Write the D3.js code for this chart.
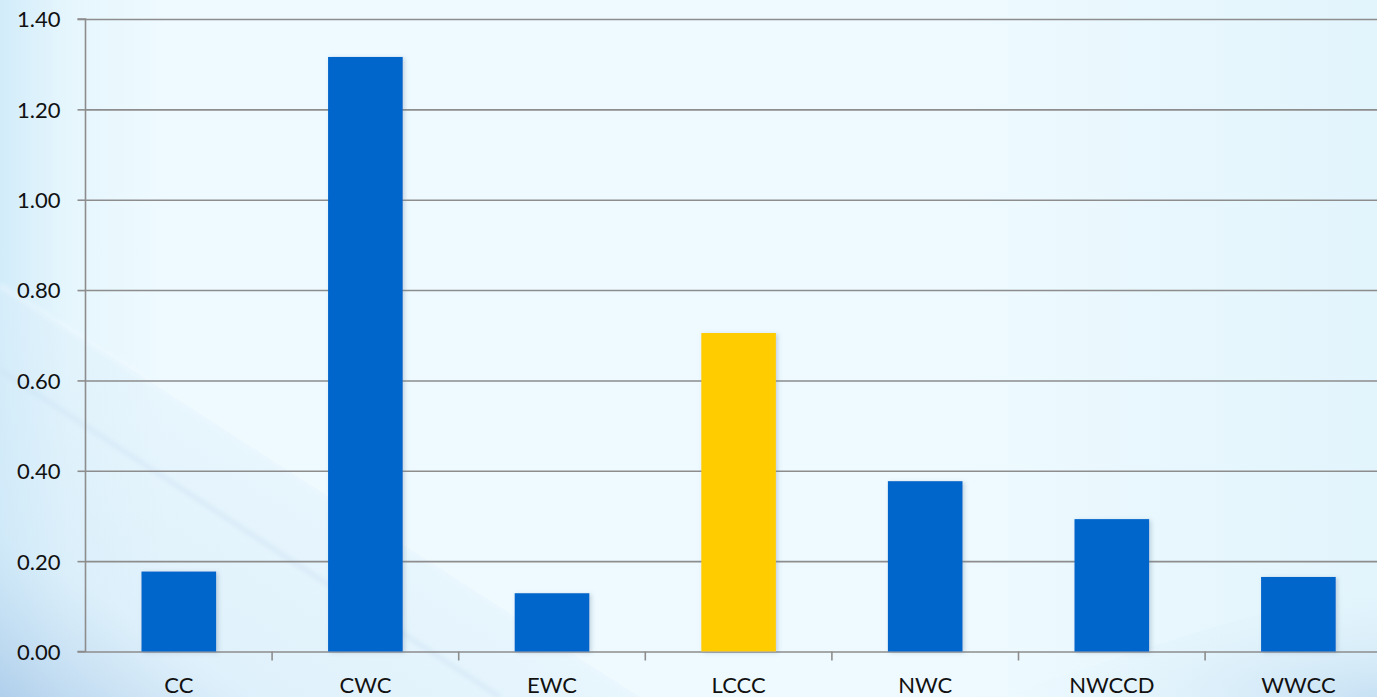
<!DOCTYPE html>
<html>
<head>
<meta charset="utf-8">
<script src="https://cdn.jsdelivr.net/npm/d3@7"></script>
<style>
  html, body { margin: 0; padding: 0; overflow: hidden; }
  svg { display: block; }
  svg text { font-family: Lato, "Open Sans", sans-serif; fill: #111; }
</style>
</head>
<body>
<div id="chart"></div>
<script>
// data
var categories = ["CC", "CWC", "EWC", "LCCC", "NWC", "NWCCD", "WWCC"];
var values = [0.177, 1.316, 0.129, 0.705, 0.377, 0.293, 0.165];
var highlight = "LCCC";
var yTicks = [0, 0.2, 0.4, 0.6, 0.8, 1.0, 1.2, 1.4];

var svgWidth = 1377;
var svgHeight = 697;

var margin = { top: 19, left: 85.5, bottom: 45.5 };
var step = 186.6;
var plotRight = margin.left + step * categories.length;

var svg = d3.select("#chart")
  .append("svg")
    .attr("width", svgWidth)
    .attr("height", svgHeight);

var defs = svg.append("defs");

// background gradients
var bg = defs.append("linearGradient").attr("id", "bg")
  .attr("x1", "0%").attr("x2", "100%").attr("y1", "0%").attr("y2", "0%");
bg.append("stop").attr("offset", "0%").attr("stop-color", "#d2ecfa");
bg.append("stop").attr("offset", "5%").attr("stop-color", "#e6f6fd");
bg.append("stop").attr("offset", "12%").attr("stop-color", "#eefaff");
bg.append("stop").attr("offset", "70%").attr("stop-color", "#eefaff");
bg.append("stop").attr("offset", "100%").attr("stop-color", "#e2f4fc");

var streak = defs.append("linearGradient").attr("id", "streak")
  .attr("x1", "0%").attr("x2", "100%").attr("y1", "100%").attr("y2", "0%");
streak.append("stop").attr("offset", "0%").attr("stop-color", "#a8c8e8").attr("stop-opacity", 0.8);
streak.append("stop").attr("offset", "20%").attr("stop-color", "#cfe7f7").attr("stop-opacity", 0.5);
streak.append("stop").attr("offset", "60%").attr("stop-color", "#e0f1fb").attr("stop-opacity", 0.3);
streak.append("stop").attr("offset", "100%").attr("stop-color", "#e8f6ff").attr("stop-opacity", 0.1);

var corner = defs.append("radialGradient").attr("id", "corner")
  .attr("cx", "100%").attr("cy", "100%").attr("r", "100%");
corner.append("stop").attr("offset", "0%").attr("stop-color", "#bcd9f0").attr("stop-opacity", 0.7);
corner.append("stop").attr("offset", "100%").attr("stop-color", "#e0f2fb").attr("stop-opacity", 0);

var blur = defs.append("filter").attr("id", "blur");
blur.append("feGaussianBlur").attr("stdDeviation", 2.5);

var shadow = defs.append("filter").attr("id", "shadow")
  .attr("x", "-10%").attr("y", "-10%").attr("width", "130%").attr("height", "120%");
shadow.append("feDropShadow")
  .attr("dx", 2).attr("dy", 1).attr("stdDeviation", 2)
  .attr("flood-color", "#5a7a99").attr("flood-opacity", 0.3);

svg.append("rect")
  .attr("width", svgWidth).attr("height", svgHeight)
  .attr("fill", "url(#bg)");

// diagonal light bands, bottom left
svg.append("path")
  .attr("d", "M0,285 L640,697 L0,697 Z")
  .attr("fill", "url(#streak)");
svg.append("path")
  .attr("d", "M0,285 L640,697")
  .attr("stroke", "#f2faff").attr("stroke-width", 3).attr("stroke-opacity", 0.7)
  .attr("fill", "none").attr("filter", "url(#blur)");
svg.append("path")
  .attr("d", "M0,370 L500,697")
  .attr("stroke", "#cbdff2").attr("stroke-width", 3).attr("stroke-opacity", 0.7)
  .attr("fill", "none").attr("filter", "url(#blur)");
svg.append("path")
  .attr("d", "M1000,697 Q1250,610 1377,585 L1377,697 Z")
  .attr("fill", "url(#corner)");

var xScale = d3.scaleBand()
  .domain(categories)
  .range([margin.left, plotRight]);

var yScale = d3.scaleLinear()
  .domain([0, 1.4])
  .range([svgHeight - margin.bottom, margin.top]);

// gridlines
svg.append("g")
  .attr("transform", `translate(${margin.left}, 0)`)
  .call(d3.axisLeft(yScale).tickValues(yTicks).tickSize(-(svgWidth - margin.left)).tickFormat(""))
  .call(g => g.select(".domain").remove())
  .call(g => g.selectAll("line").attr("stroke", "#8d8d8d").attr("stroke-width", 1.6));

// bars
svg.selectAll("rect.bar")
  .data(categories)
  .enter().append("rect")
    .attr("class", "bar")
    .attr("x", d => xScale(d) + xScale.bandwidth() * 0.3)
    .attr("width", xScale.bandwidth() * 0.4)
    .attr("y", (d, i) => yScale(values[i]))
    .attr("height", (d, i) => yScale(0) - yScale(values[i]))
    .attr("fill", d => d === highlight ? "#ffcc00" : "#0066cc")
    .attr("filter", "url(#shadow)");

// y axis
var yAxis = svg.append("g")
  .attr("transform", `translate(${margin.left}, 0)`)
  .call(d3.axisLeft(yScale).tickValues(yTicks).tickSize(8).tickPadding(17).tickFormat(d3.format(".2f")));
yAxis.attr("font-family", null);
yAxis.selectAll("text").style("font-size", "22px").attr("dy", "0.36em");
yAxis.selectAll("line").attr("stroke", "#8d8d8d").attr("stroke-width", 1.6);
yAxis.select(".domain").attr("stroke", "#8d8d8d").attr("stroke-width", 1.6)
  .attr("d", `M-8,${yScale(1.4)}H0V${yScale(0)}H-8`);

// x axis
var xAxis = svg.append("g")
  .attr("transform", `translate(0, ${yScale(0)})`)
  .call(d3.axisBottom(xScale).tickSize(0).tickPadding(26));
xAxis.attr("font-family", null);
xAxis.select(".domain").remove();
xAxis.selectAll("text").style("font-size", "22px");

// category separator ticks
svg.append("g").selectAll("line")
  .data(categories.slice(1))
  .enter().append("line")
    .attr("x1", d => xScale(d))
    .attr("x2", d => xScale(d))
    .attr("y1", yScale(0))
    .attr("y2", yScale(0) + 9)
    .attr("stroke", "#8d8d8d")
    .attr("stroke-width", 1.6);
</script>
</body>
</html>
